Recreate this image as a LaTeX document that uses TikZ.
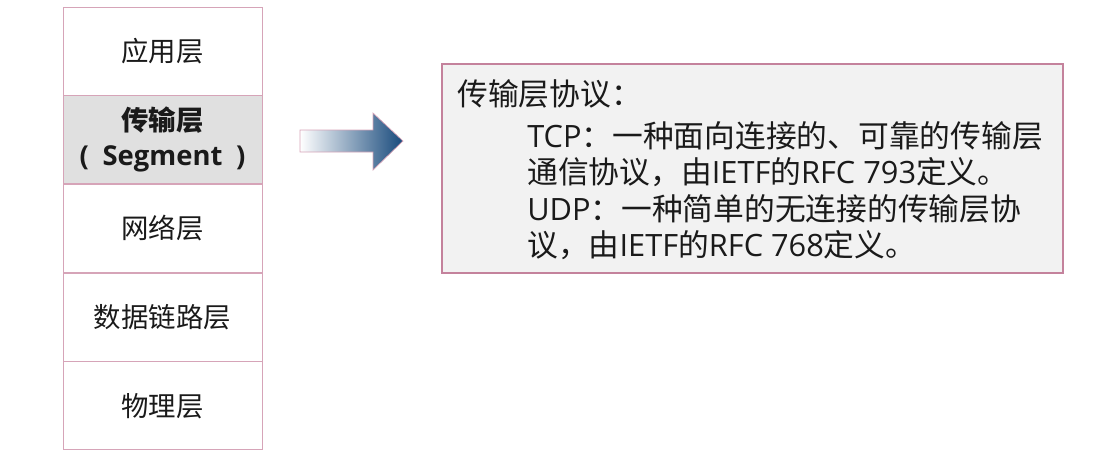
\documentclass[tikz,border=0pt]{standalone}
\usepackage{fontspec}
\setmainfont{Open Sans}
\newfontfamily\cjk{Noto Sans CJK SC}
\newcommand\zh[1]{{\cjk #1}}
\usepackage{tikz}
\usetikzlibrary{positioning}
\definecolor{layerline}{RGB}{214,164,184}
\definecolor{layergray}{RGB}{224,224,224}
\definecolor{boxfill}{RGB}{242,242,242}
\definecolor{boxline}{RGB}{196,130,156}
\definecolor{arrowblue}{RGB}{24,74,124}
\definecolor{ink}{RGB}{26,26,26}

\begin{document}
\begin{tikzpicture}[x=0.02cm, y=-0.02cm,
    every node/.style = {text=ink, font=\fontsize{15.6pt}{20.8pt}\selectfont},
      layer/.style = {draw=layerline, minimum width=3.98cm, minimum height=1.76cm, inner sep=0pt, align=center},
      boxtext/.style = {inner sep=0pt, font=\fontsize{17.5pt}{20.8pt}\selectfont}
    ]
    \useasboundingbox (0,0) rectangle (1100,464);
    % left: the five layers
    \node[layer] (app) at (162.5,51) {\zh{应用层}};
    \node[layer, fill=layergray, below=0pt of app] (trans) {\bfseries\zh{传输层}\\[-1pt]\bfseries (\enspace Segment\enspace)};
    \node[layer, below=0pt of trans] (net) {\zh{网络层}};
    \node[layer, below=0pt of net] (link) {\zh{数据链路层}};
    \node[layer, below=0pt of link] (phys) {\zh{物理层}};
    % arrow
    \shadedraw[draw=layerline, left color=white, right color=arrowblue, line width=0.4pt]
        (300,130) -- (373,130) -- (373,113) -- (403,141) -- (373,170) -- (373,152) -- (300,152) -- cycle;
    % right: protocol box
    \node[draw=boxline, fill=boxfill, line width=0.8pt, minimum width=12.42cm, minimum height=4.18cm] (proto) at (752.5,168.5) {};
    \node[boxtext, anchor=base west] (title) at (457,105) {\zh{传输层协议：}};
    \node[boxtext, anchor=north west, align=left] (body) at (527,121) {TCP\zh{：一种面向连接的、可靠的传输层}\\
        \zh{通信协议，由}IETF\zh{的}RFC 793\zh{定义。}\\
        UDP\zh{：一种简单的无连接的传输层协}\\
        \zh{议，由}IETF\zh{的}RFC 768\zh{定义。}};
\end{tikzpicture}
\end{document}
